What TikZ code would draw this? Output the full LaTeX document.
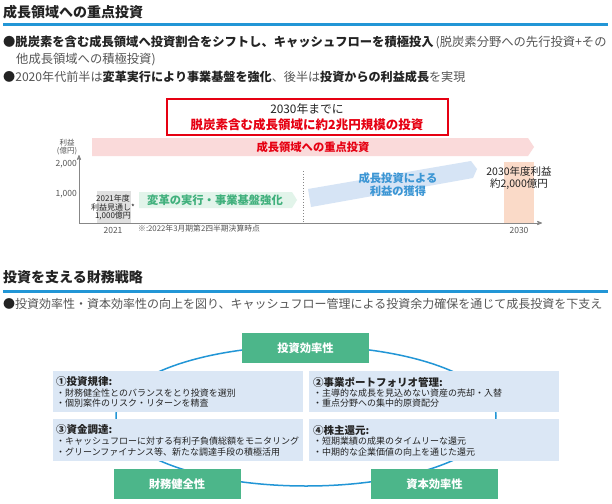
\documentclass[tikz,border=0pt]{standalone}
\usepackage{fontspec}
\setmainfont{Noto Sans CJK JP}
\usetikzlibrary{arrows}
\definecolor{line_blue}{RGB}{34,150,214}
\definecolor{text_dark}{RGB}{35,35,35}
\definecolor{text_gray}{RGB}{85,85,85}
\definecolor{edge_red}{RGB}{230,0,18}
\definecolor{band_red}{RGB}{250,218,218}
\definecolor{node_green}{RGB}{76,182,138}
\definecolor{band_green}{RGB}{226,244,234}
\definecolor{text_green}{RGB}{64,176,124}
\definecolor{band_blue}{RGB}{214,228,245}
\definecolor{text_blue}{RGB}{60,150,212}
\definecolor{bar_peach}{RGB}{250,218,200}
\definecolor{node_blue}{RGB}{219,231,245}
\definecolor{box_gray}{RGB}{224,224,224}
\definecolor{axis_gray}{RGB}{135,135,135}
\newcommand{\fsz}[1]{\fontsize{#1}{#1}\selectfont}

\begin{document}
\begin{tikzpicture}[x=1pt,y=-1pt,>=stealth']
    \tikzstyle{txt}=[inner sep=0pt, text=text_dark]
    \tikzstyle{ttl}=[txt, anchor=west, font=\fsz{14}\bfseries]
    \tikzstyle{bul}=[txt, anchor=west, font=\fsz{12.3}]
    \tikzstyle{sml}=[txt, text=text_gray, font=\fsz{8.5}]
    \tikzstyle{lbl}=[txt, font=\fsz{11.3}\bfseries]
    \tikzstyle{grn}=[fill=node_green, minimum width=127pt, minimum height=30pt, inner sep=0pt, text=white, font=\fsz{11.3}\bfseries]
    \tikzstyle{info}=[fill=node_blue, inner sep=0pt, minimum width=250pt, minimum height=41pt]
    \tikzstyle{hd}=[txt, anchor=west, font=\fsz{10.5}\bfseries]
    \tikzstyle{itm}=[txt, anchor=west, font=\fsz{9}]

    \useasboundingbox[fill=white] (0,0) rectangle (612,503);

    % section 1
    \node[ttl] (t1) at (3,12) {成長領域への重点投資};
    \draw[line_blue, line width=3pt] (3,25) -- (608,25);
    \node[bul] (p1) at (3,42) {●\textbf{脱炭素を含む成長領域へ投資割合をシフトし、キャッシュフローを積極投入}\hspace{2pt}{\color{text_gray}(脱炭素分野への先行投資+その}};
    \node[bul, text=text_gray] (p2) at (16,60) {他成長領域への積極投資)};
    \node[bul, text=text_gray, font=\fsz{12.1}] (p3) at (3,77) {{\color{text_dark}●}2020年代前半は{\color{text_dark}\textbf{変革実行により事業基盤を強化}}、後半は{\color{text_dark}\textbf{投資からの利益成長}}を実現};

    \node[draw=edge_red, line width=1.3pt, minimum width=281pt, minimum height=36pt, inner sep=0pt] (rb) at (307.5,117) {};
    \node[txt, font=\fsz{11.8}] (rb1) at (307,109) {2030年までに};
    \node[txt, text=edge_red, font=\fsz{12.5}\bfseries] (rb2) at (307,125) {脱炭素含む成長領域に約2兆円規模の投資};

    \fill[band_red] (92,138) -- (528,138) -- (534,147) -- (528,156) -- (92,156) -- cycle;
    \node[lbl, text=edge_red] (pb) at (313,147) {成長領域への重点投資};

    % chart
    \fill[box_gray] (97,191) rectangle (131,223);
    \fill[bar_peach] (504,162) rectangle (534,223);
    \coordinate (o) at (79,223);
    \coordinate (ytop) at (79,155);
    \coordinate (xend) at (542,223);
    \draw[->, axis_gray, line width=0.8pt] (o) -- (ytop);
    \draw[->, axis_gray, line width=0.8pt] (o) -- (xend);
    \draw[axis_gray, dotted, line width=0.8pt] (303,171) -- (303,223);

    \node[txt, text=text_gray, font=\fsz{7.5}] (yl1) at (67,143) {利益};
    \node[txt, text=text_gray, font=\fsz{7.5}] (yl2) at (67,151) {(億円)};
    \node[sml, anchor=east] (y2) at (77,164) {2,000};
    \node[sml, anchor=east] (y1) at (77,194) {1,000};
    \node[sml] (x1) at (113,230) {2021};
    \node[sml] (x2) at (519,230) {2030};
    \node[sml, anchor=west, font=\fsz{7.8}] (nt) at (138,229) {※:2022年3月期第2四半期決算時点};
    \node[txt, font=\fsz{8}] (g1) at (113,198) {2021年度};
    \node[txt, font=\fsz{8}] (g2) at (113,207) {利益見通し*};
    \node[txt, font=\fsz{8}] (g3) at (113,216) {1,000億円};

    \fill[band_green] (139,192) -- (292,192) -- (297,200) -- (292,208) -- (139,208) -- cycle;
    \node[lbl, text=text_green] (ga) at (215,200) {変革の実行・事業基盤強化};
    \fill[band_blue] (308,189) -- (471,161) -- (477,169) -- (473,178) -- (311,207) -- cycle;
    \node[lbl, text=text_blue] (ba1) at (398,178) {成長投資による};
    \node[lbl, text=text_blue] (ba2) at (398,191) {利益の獲得};
    \node[txt, font=\fsz{10.5}] (e1) at (519,171) {2030年度利益};
    \node[txt, font=\fsz{10.5}] (e2) at (519,184) {約2,000億円};

    % section 2
    \node[ttl] (t2) at (3,277) {投資を支える財務戦略};
    \draw[line_blue, line width=3pt] (3,291) -- (608,291);
    \node[bul, text=text_gray, font=\fsz{12}] (q1) at (3,304) {{\color{text_dark}●}投資効率性・資本効率性の向上を図り、キャッシュフロー管理による投資余力確保を通じて成長投資を下支え};

    \draw[line_blue, line width=1.5pt] (306,416) ellipse [x radius=190pt, y radius=70pt];

    \node[info] (bx1) at (178,391.5) {};
    \node[info] (bx2) at (433.5,391.5) {};
    \node[info, minimum height=42pt] (bx3) at (178,440) {};
    \node[info, minimum height=42pt] (bx4) at (433.5,440) {};

    \node[hd] (h1) at (56,382) {①投資規律:};
    \node[itm] (h1a) at (56,393) {・財務健全性とのバランスをとり投資を選別};
    \node[itm] (h1b) at (56,403) {・個別案件のリスク・リターンを精査};
    \node[hd] (h2) at (313,382) {②事業ポートフォリオ管理:};
    \node[itm] (h2a) at (313,393) {・主導的な成長を見込めない資産の売却・入替};
    \node[itm] (h2b) at (313,403) {・重点分野への集中的原資配分};
    \node[hd] (h3) at (56,430) {③資金調達:};
    \node[itm] (h3a) at (56,441) {・キャッシュフローに対する有利子負債総額をモニタリング};
    \node[itm] (h3b) at (56,452) {・グリーンファイナンス等、新たな調達手段の積極活用};
    \node[hd] (h4) at (313,430) {④株主還元:};
    \node[itm] (h4a) at (313,441) {・短期業績の成果のタイムリーな還元};
    \node[itm] (h4b) at (313,452) {・中期的な企業価値の向上を通じた還元};

    \node[grn] (ie) at (305.5,348) {投資効率性};
    \node[grn] (fh) at (177,484) {財務健全性};
    \node[grn] (ce) at (434.5,484) {資本効率性};
\end{tikzpicture}
\end{document}
